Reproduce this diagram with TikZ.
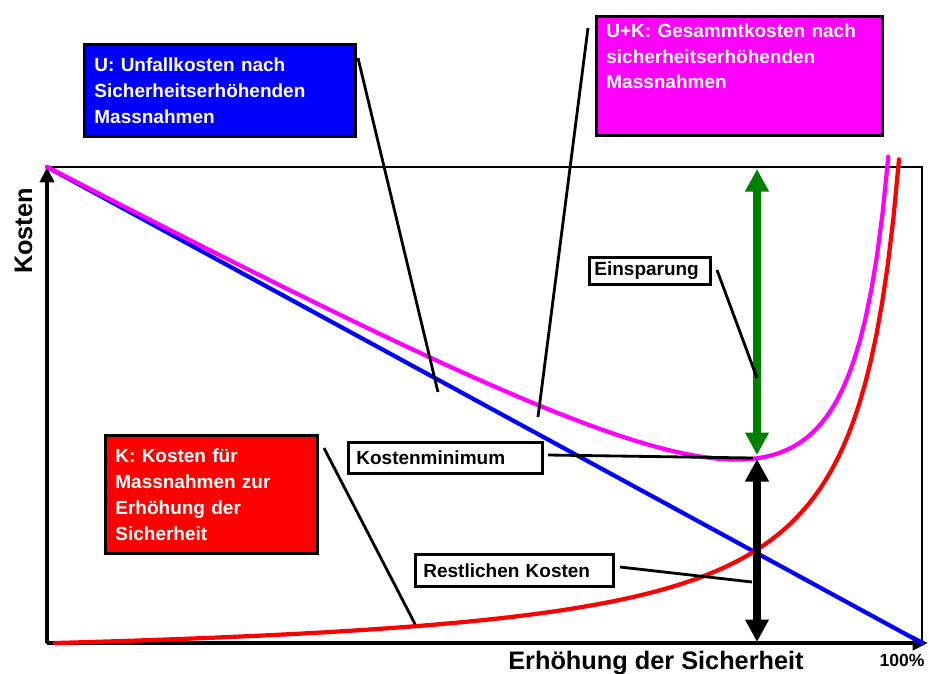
\documentclass[tikz,border=0pt]{standalone}
\usepackage{fontspec}
\setmainfont{Liberation Sans}
\usetikzlibrary{arrows.meta}
\definecolor{sparGreen}{RGB}{0,128,0}
\definecolor{ukMagenta}{RGB}{255,0,255}

\begin{document}
\begin{tikzpicture}[x=0.025cm, y=-0.025cm]

      \tikzset{costbox/.style={draw, line width=2pt, anchor=north west, align=left, text=white, inner xsep=0.25cm, font=\bfseries\fontsize{13.5}{18.4}\selectfont}}
      \tikzset{tagbox/.style={draw, line width=2pt, fill=white, anchor=north west, align=left, inner xsep=0.2cm, font=\bfseries\fontsize{13.5}{15}\selectfont}}
      \tikzset{axislabel/.style={inner sep=0pt, anchor=base, font=\bfseries\fontsize{18}{20}\selectfont}}
      \tikzset{pointer/.style={line width=2pt}}
      \tikzset{curve/.style={line width=3pt, line join=round, line cap=round}}
      \tikzset{axis/.style={line width=3.5pt, -{Triangle[width=10pt, length=11pt]}}}
      \tikzset{bar/.style={line width=6pt, {Triangle[width=16pt, length=16pt]}-{Triangle[width=16pt, length=16pt]}}}

      \useasboundingbox (0,0) rectangle (929,673);

%% Axes
      	\coordinate (origin) at (47,643);
      	\coordinate (yTop) at (47,167);
      	\coordinate (xEnd) at (922,643);
      	\coordinate (xTip) at (928,643);
		\draw [line width=1pt] (yTop) rectangle (xEnd);
		\draw [axis] (origin) -- (yTop);
		\draw [axis] (origin) -- (xTip);
      	\node[axislabel, rotate=90] (yLabel) at (32,231) {Kosten};
      	\node[axislabel] (xLabel) at (656,669) {Erhöhung der Sicherheit};
      	\node[axislabel, font=\bfseries\fontsize{12.5}{14}\selectfont] (full) at (902,666) {100\%};

%% Curves (U falls linearly, K and U+K blow up near 100%)
		\draw [curve, blue] (yTop) -- (xEnd);
		\draw [curve, red] plot[domain=55:899, samples=150] (\x, {643 - (218.06/(9.419 - \x/100) - 24.6)});
		\draw [curve, ukMagenta] plot[domain=47:888.3, samples=150] (\x, {167 + 0.544*(\x - 47) - (203.75/(9.298 - \x/100) - 22.9)});

%% Savings and rest
      	\coordinate (minUp) at (757,455);
      	\coordinate (minDown) at (757,459);
      	\coordinate (topPt) at (757,169);
      	\coordinate (basePt) at (757,642);
		\draw [bar, sparGreen] (minUp) -- (topPt);
		\draw [bar, black] (minDown) -- (basePt);

%% Boxes
      	\node[costbox, fill=blue, text width=6.275cm, minimum height=2.3cm] (uBox) at (83,43) {U: Unfallkosten nach\\Sicherheitserhöhenden\\Massnahmen};
      	\node[costbox, fill=ukMagenta, text width=6.65cm, inner ysep=5pt, text depth=65pt] (ukBox) at (595,15) {U+K: Gesammtkosten nach\\sicherheitserhöhenden\\Massnahmen};
      	\node[costbox, fill=red, text width=4.8cm, minimum height=2.95cm] (kBox) at (104,434) {K: Kosten für\\Massnahmen zur\\Erhöhung der\\Sicherheit};
      	\node[tagbox, text width=4.45cm, minimum height=0.775cm] (minBox) at (347,441) {Kostenminimum};
      	\node[tagbox, text width=4.55cm, minimum height=0.8cm] (restBox) at (414,553) {Restlichen Kosten};
      	\node[tagbox, inner xsep=0.125cm, text width=2.775cm, minimum height=0.575cm] (sparBox) at (588,256) {Einsparung};

%Pointers
      	\coordinate (uFrom) at (358,58);   \coordinate (uTip) at (438,392);
      	\coordinate (ukFrom) at (588,28);  \coordinate (ukTip) at (538,417);
      	\coordinate (kFrom) at (324,448);  \coordinate (kTip) at (415,624);
      	\coordinate (minFrom) at (548,455); \coordinate (minTip) at (753,458);
      	\coordinate (restFrom) at (620,567); \coordinate (restTip) at (752,582);
      	\coordinate (sparFrom) at (717,270); \coordinate (sparTip) at (757,378);
		\path [pointer] (uFrom) edge (uTip);
		\path [pointer] (ukFrom) edge (ukTip);
		\path [pointer] (kFrom) edge (kTip);
		\path [pointer] (minFrom) edge (minTip);
		\path [pointer] (restFrom) edge (restTip);
		\path [pointer] (sparFrom) edge (sparTip);

	\end{tikzpicture}
\end{document}
